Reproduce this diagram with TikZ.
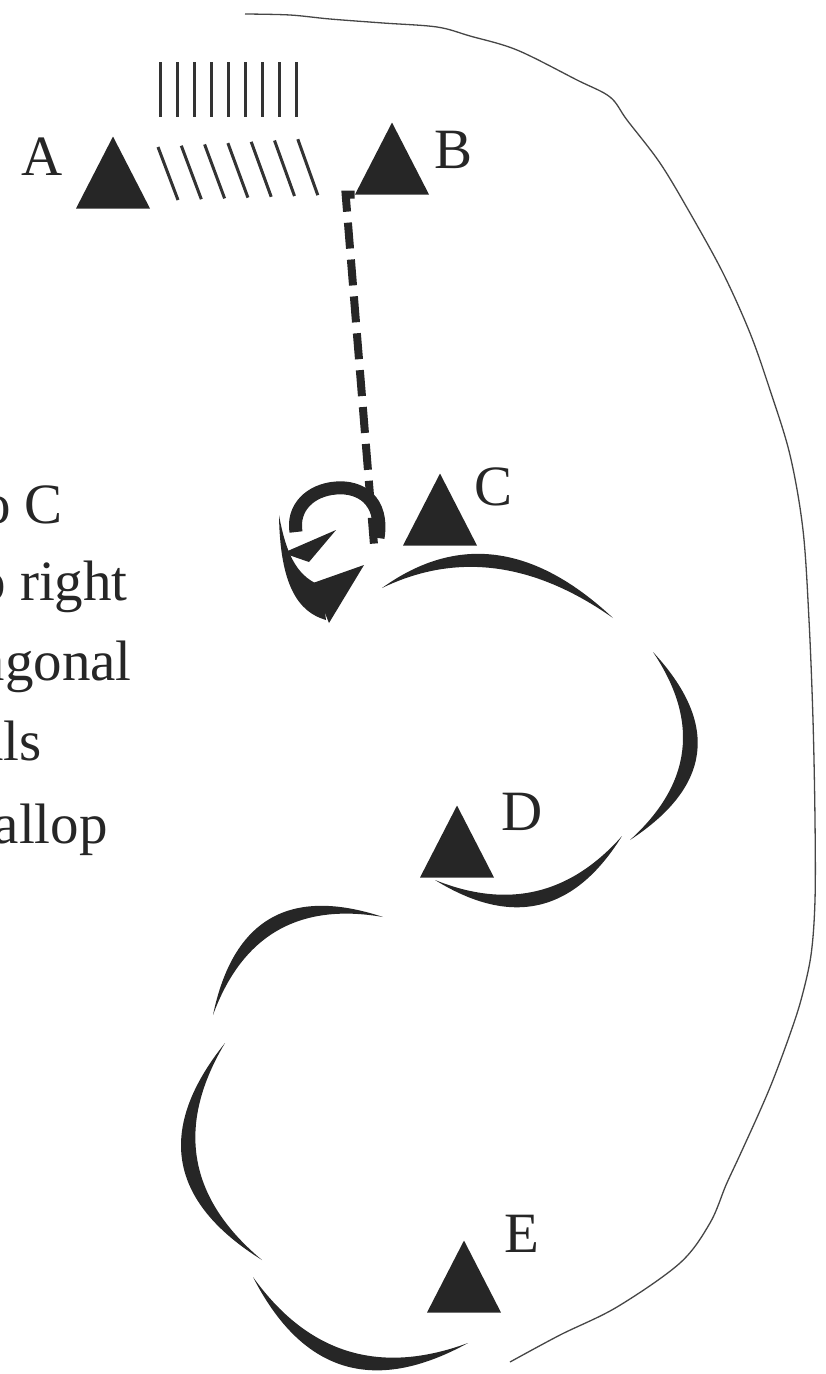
\documentclass[tikz,border=0pt]{standalone}
\usepackage{fontspec}
\setmainfont{Liberation Serif}
\usetikzlibrary{shapes.geometric}

\tikzset{
  peak/.style={isosceles triangle, isosceles triangle stretches, shape border rotate=90,
    minimum width=74pt, minimum height=72pt, inner sep=0pt, fill=black!85, anchor=apex},
  lbl/.style={font=\fontsize{57}{60}\selectfont, inner sep=0pt, text=black!85},
  hatch/.style={line width=3pt, black!80},
  scallop/.style={fill=black!85}
}

\begin{document}
\begin{tikzpicture}[x=1pt,y=-1pt]
\useasboundingbox (0,0) rectangle (826,1374);
\clip (0,0) rectangle (826,1374);

% thin outline
\draw[gray!55!black, line width=1.3pt] plot[smooth, tension=0.55] coordinates {
  (245,14) (290,15) (330,19) (383,23) (437,27) (470,36) (517,50) (577,80)
  (610,97) (627,120) (660,163) (690,213) (723,273) (750,333) (770,390)
  (790,455) (803,530) (809,620) (813,720) (815,820) (815,900) (811,955)
  (801,1000) (789,1037) (773,1080) (759,1113) (739,1157) (726,1185)
  (710,1223) (680,1263) (617,1307) (560,1335) (510,1362)};

% text at the left edge
\node[lbl, anchor=base east] (t1) at (63,523) {o C};
\node[lbl, anchor=base east] (t2) at (128,600) {o right};
\node[lbl, anchor=base east] (t3) at (132,680) {agonal};
\node[lbl, anchor=base east] (t4) at (42,760) {als};
\node[lbl, anchor=base east] (t5) at (108,843) {allop};

% triangles
\node[peak] (A) at (113,136) {};
\node[peak] (B) at (392,122) {};
\node[peak] (C) at (440,473) {};
\node[peak] (D) at (457,805) {};
\node[peak] (E) at (464,1240) {};
\node[lbl] (la) at (42,157) {A};
\node[lbl] (lb) at (454,150) {B};
\node[lbl] (lc) at (494,487) {C};
\node[lbl] (ld) at (522,812) {D};
\node[lbl] (le) at (522,1234) {E};

% hatching
\foreach \i in {0,...,8}
  \draw[hatch] ({160+17*\i},62) -- ({160+17*\i},117);
\foreach \i in {0,...,6}
  \draw[hatch] ({158+23.3*\i},{147-1.3*\i}) -- ({178+23.3*\i},{200-0.8*\i});

% dashed path down to the curl
\coordinate (curl) at (374,545);
\draw[line width=8pt, dash pattern=on 26pt off 11pt, black!85] (B.left corner) -- ++(-9,0) -- (curl);

% curl arrows
\draw[line width=13pt, black!85] (378,538) .. controls (384,500) and (360,486) .. (336,488)
  .. controls (310,490) and (292,508) .. (296,532);
\fill[black!85] (283,553) -- (336,530) -- (309,562) -- cycle;
\fill[black!85] (279,515) .. controls (280,585) and (298,612) .. (326,620) -- (322,586)
  .. controls (300,578) and (287,560) .. (279,515) -- cycle;
\fill[black!85] (364,565) -- (313,583) -- (329,623) -- cycle;

% scallops
\fill[scallop] (382,588) .. controls (457,534) and (534,544) .. (613,618)
  .. controls (533.5,562) and (456.5,552) .. (382,588) -- cycle;
\fill[scallop] (653,652) .. controls (719.5,723.7) and (711.8,786.4) .. (630,840)
  .. controls (691.9,783.9) and (699.6,721.2) .. (653,652) -- cycle;
\fill[scallop] (622,836) .. controls (574.3,912.9) and (512,927.6) .. (435,880)
  .. controls (507.8,909.4) and (570,894.8) .. (622,836) -- cycle;
\fill[scallop] (213,1015) .. controls (233,918.9) and (289.7,886.2) .. (383,917)
  .. controls (299,902.4) and (242.3,935) .. (213,1015) -- cycle;
\fill[scallop] (225,1043) .. controls (155.9,1129.2) and (168.2,1201.5) .. (262,1260)
  .. controls (187.9,1198.2) and (175.6,1125.8) .. (225,1043) -- cycle;
\fill[scallop] (253,1277) .. controls (302,1372.9) and (373.7,1394.9) .. (468,1343)
  .. controls (379.5,1375.7) and (307.9,1353.7) .. (253,1277) -- cycle;
\end{tikzpicture}
\end{document}
